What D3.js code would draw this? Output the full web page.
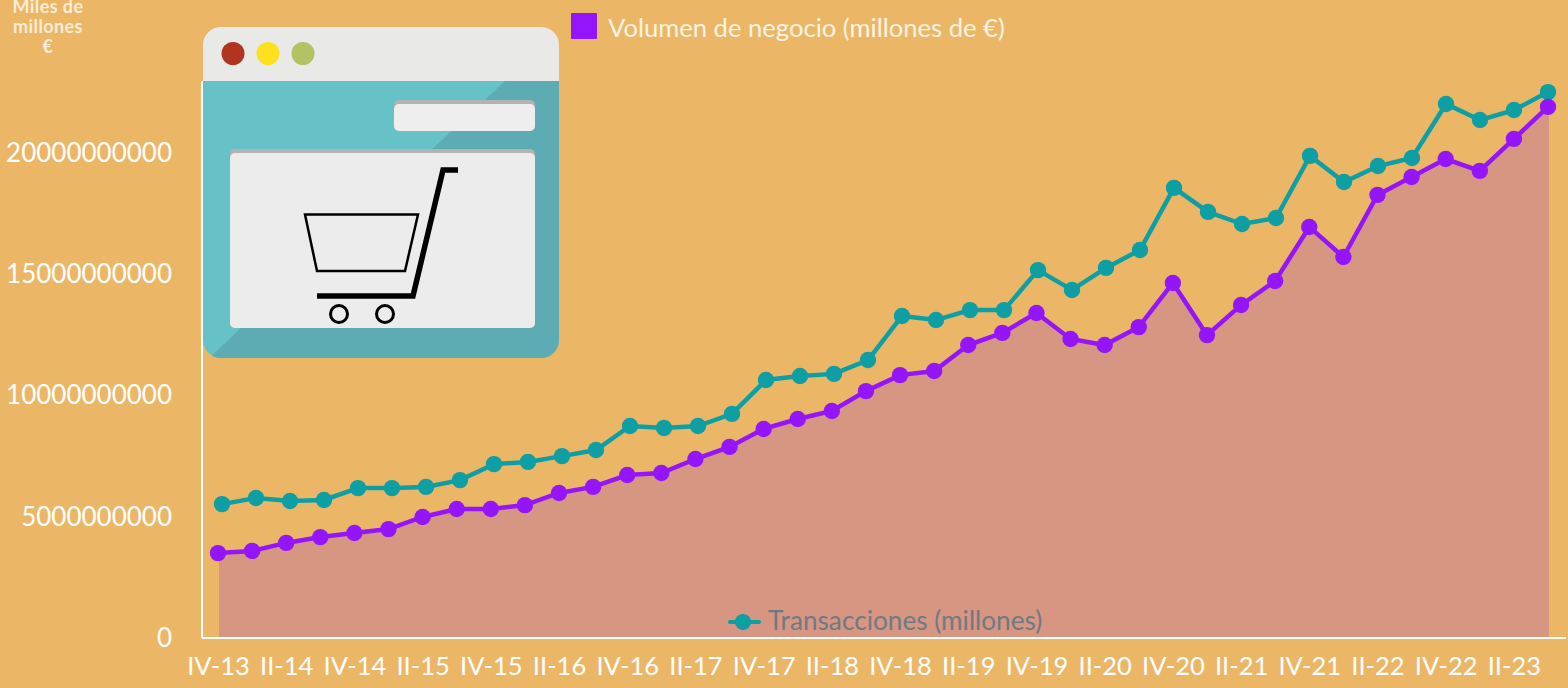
<!DOCTYPE html>
<html>
<head>
<meta charset="utf-8">
<script src="https://cdn.jsdelivr.net/npm/d3@7"></script>
<style>
    html, body { margin: 0; padding: 0; background: #ebb767; overflow: hidden; }
    text { font-family: Lato, sans-serif; }
</style>
</head>
<body>
<svg id="chart" width="1568" height="688"></svg>
<script>
const quarters = [
    'IV-13', 'I-14', 'II-14', 'III-14', 'IV-14', 'I-15', 'II-15', 'III-15', 'IV-15', 'I-16',
    'II-16', 'III-16', 'IV-16', 'I-17', 'II-17', 'III-17', 'IV-17', 'I-18', 'II-18', 'III-18',
    'IV-18', 'I-19', 'II-19', 'III-19', 'IV-19', 'I-20', 'II-20', 'III-20', 'IV-20', 'I-21',
    'II-21', 'III-21', 'IV-21', 'I-22', 'II-22', 'III-22', 'IV-22', 'I-23', 'II-23', 'III-23'
];
const volumen = [
    3.46e9, 3.55e9, 3.88e9, 4.12e9, 4.29e9, 4.45e9, 4.95e9, 5.28e9, 5.28e9, 5.44e9,
    5.94e9, 6.19e9, 6.68e9, 6.76e9, 7.34e9, 7.84e9, 8.58e9, 8.99e9, 9.32e9, 10.14e9,
    10.80e9, 10.97e9, 12.04e9, 12.54e9, 13.36e9, 12.29e9, 12.04e9, 12.78e9, 14.60e9, 12.45e9,
    13.69e9, 14.68e9, 16.91e9, 15.67e9, 18.23e9, 18.97e9, 19.71e9, 19.22e9, 20.54e9, 21.86e9
];
// its own axis is not shown in the picture, so these are read against the left axis
const transacciones = [
    5.48e9, 5.73e9, 5.61e9, 5.65e9, 6.14e9, 6.14e9, 6.19e9, 6.47e9, 7.13e9, 7.22e9,
    7.46e9, 7.71e9, 8.70e9, 8.62e9, 8.70e9, 9.20e9, 10.60e9, 10.76e9, 10.85e9, 11.42e9,
    13.24e9, 13.07e9, 13.48e9, 13.48e9, 15.13e9, 14.31e9, 15.22e9, 15.96e9, 18.52e9, 17.53e9,
    17.03e9, 17.28e9, 19.84e9, 18.76e9, 19.42e9, 19.75e9, 21.98e9, 21.32e9, 21.73e9, 22.47e9
];
const yTicks = [0, 5e9, 10e9, 15e9, 20e9];
const xLabels = quarters.filter((d, i) => i % 2 === 0);

const svg = d3.select('#chart');

const x = d3.scalePoint().domain(quarters).range([218, 1548]);
const xTrans = d3.scalePoint().domain(quarters).range([222, 1548]);
const xArea = d3.scalePoint().domain(quarters).range([219, 1549]);
const y = d3.scaleLinear().domain([0, 20e9]).range([637, 152]);

const area = d3.area()
    .x((d, i) => xArea(quarters[i]))
    .y0(y(0))
    .y1(d => y(d));
const lineVol = d3.line().x((d, i) => x(quarters[i])).y(d => y(d));
const lineTrans = d3.line().x((d, i) => xTrans(quarters[i])).y(d => y(d));

svg.append('path').attr('d', area(volumen)).attr('fill', '#d79681');

// axes
const xAxis = svg.append('g')
    .attr('transform', `translate(0, ${y(0)})`)
    .call(d3.axisBottom(x).tickValues(xLabels).tickSize(0).tickPadding(20));
const yAxis = svg.append('g')
    .attr('transform', 'translate(202, 0)')
    .call(d3.axisLeft(y).tickValues(yTicks).tickSize(0).tickPadding(30).tickFormat(d3.format('d')));

xAxis.select('.domain').attr('d', 'M202,1H1566').attr('stroke', '#fff').attr('stroke-width', 2);
yAxis.select('.domain').attr('d', 'M0,81V638').attr('stroke', '#fff').attr('stroke-width', 2);
svg.selectAll('.tick text').attr('fill', '#fff').style('font-size', '25.5px').style('font-family', 'Lato, sans-serif');
yAxis.selectAll('.tick text').style('font-size', '26px').attr('y', 1);

// series
svg.append('path').attr('d', lineTrans(transacciones))
    .attr('fill', 'none').attr('stroke', '#0e9fa5').attr('stroke-width', 4.5);
svg.selectAll('.dot-trans')
    .data(transacciones)
    .enter().append('circle')
    .attr('class', 'dot-trans')
    .attr('cx', (d, i) => xTrans(quarters[i]))
    .attr('cy', d => y(d))
    .attr('r', 8.2)
    .attr('fill', '#0e9fa5');

svg.append('path').attr('d', lineVol(volumen))
    .attr('fill', 'none').attr('stroke', '#9515fb').attr('stroke-width', 4.5);
svg.selectAll('.dot-vol')
    .data(volumen)
    .enter().append('circle')
    .attr('class', 'dot-vol')
    .attr('cx', (d, i) => x(quarters[i]))
    .attr('cy', d => y(d))
    .attr('r', 8.2)
    .attr('fill', '#9515fb');

// y title
svg.append('g').selectAll('text')
    .data(['Miles de', 'millones', '€'])
    .enter().append('text')
    .attr('x', 48)
    .attr('y', (d, i) => 13 + i * 20)
    .attr('text-anchor', 'middle')
    .attr('fill', '#fdf3e3')
    .attr('opacity', 0.9)
    .style('font-size', '18px')
    .style('font-weight', 700)
    .style('letter-spacing', '0.4px')
    .text(d => d);

// legend
svg.append('rect').attr('x', 571).attr('y', 13).attr('width', 26).attr('height', 26).attr('rx', 1).attr('fill', '#9515fb');
svg.append('text').attr('x', 608).attr('y', 36.5).attr('fill', '#fdf3e3').style('font-size', '25.6px')
    .text('Volumen de negocio (millones de €)');
svg.append('line').attr('x1', 730).attr('x2', 759).attr('y1', 622).attr('y2', 622)
    .attr('stroke', '#0e9fa5').attr('stroke-width', 4).attr('stroke-linecap', 'round');
svg.append('circle').attr('cx', 743).attr('cy', 622).attr('r', 8).attr('fill', '#0e9fa5');
svg.append('text').attr('x', 768).attr('y', 630).attr('fill', '#6f7a84').style('font-size', '26.2px')
    .text('Transacciones (millones)');

// shop window illustration
const win = svg.append('g');
win.append('clipPath').attr('id', 'win-clip')
    .append('rect').attr('x', 203).attr('y', 27).attr('width', 356).attr('height', 331).attr('rx', 18);
const winBody = win.append('g').attr('clip-path', 'url(#win-clip)');
winBody.append('rect').attr('x', 203).attr('y', 81).attr('width', 356).attr('height', 277).attr('fill', '#67c2c8');
winBody.append('path').attr('d', 'M505,81H559V358H209Z').attr('fill', '#5eacb3');
winBody.append('rect').attr('x', 203).attr('y', 27).attr('width', 356).attr('height', 54).attr('fill', '#e9e9e7');

win.selectAll('.btn')
    .data([[233, '#b03420'], [268, '#fde01e'], [303, '#b3c364']])
    .enter().append('circle')
    .attr('class', 'btn')
    .attr('cx', d => d[0])
    .attr('cy', 53.5)
    .attr('r', 11.5)
    .attr('fill', d => d[1]);

win.append('rect').attr('x', 394).attr('y', 100).attr('width', 141).attr('height', 31).attr('rx', 5).attr('fill', '#b3b3b3');
win.append('rect').attr('x', 394).attr('y', 104).attr('width', 141).attr('height', 27).attr('rx', 5).attr('fill', '#eeeeee');
win.append('rect').attr('x', 230).attr('y', 149).attr('width', 305).attr('height', 179).attr('rx', 5).attr('fill', '#b3b3b3');
win.append('rect').attr('x', 230).attr('y', 153).attr('width', 305).attr('height', 175).attr('rx', 5).attr('fill', '#ececec');

win.append('path').attr('d', 'M458,170H443L413,296H317').attr('fill', 'none').attr('stroke', '#000').attr('stroke-width', 5.5);
win.append('path').attr('d', 'M305,214.5H418L405,271H317Z').attr('fill', 'none').attr('stroke', '#000').attr('stroke-width', 2.5);
win.selectAll('.wheel')
    .data([339, 385])
    .enter().append('circle')
    .attr('class', 'wheel')
    .attr('cx', d => d)
    .attr('cy', 314)
    .attr('r', 8.5)
    .attr('fill', 'none')
    .attr('stroke', '#000')
    .attr('stroke-width', 3);
</script>
</body>
</html>
